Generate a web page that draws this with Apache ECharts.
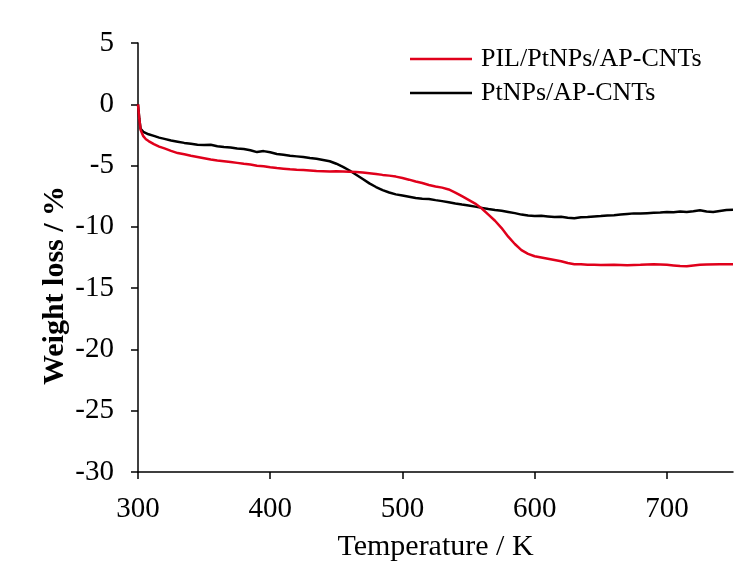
<!DOCTYPE html>
<html>
<head>
<meta charset="utf-8">
<script src="https://cdn.jsdelivr.net/npm/echarts@6/dist/echarts.min.js"></script>
<style>html,body{margin:0;padding:0;background:#fff;}#chart{width:754px;height:570px;}</style>
</head>
<body>
<div id="chart"></div>
<script>
const xTicks = [300, 400, 500, 600, 700];
const yTicks = [5, 0, -5, -10, -15, -20, -25, -30];
const seriesNames = ['PIL/PtNPs/AP-CNTs', 'PtNPs/AP-CNTs'];

const pilT = [300,301,302,304,306,308,312,316,320,325,330,335,340,345,350,355,360,365,370,375,380,385,390,395,400,405,410,415,420,425,430,435,440,445,450,455,460,465,470,475,480,485,490,495,500,505,510,515,520,525,530,535,540,545,550,555,560,565,570,575,580,585,590,595,600,605,610,615,620,625,630,635,640,645,650,660,670,680,690,700,705,710,715,720,725,730,740,750];
const pilW = [0,-1.2,-2.1,-2.6,-2.85,-3.0,-3.25,-3.45,-3.6,-3.8,-3.98,-4.08,-4.2,-4.3,-4.4,-4.5,-4.58,-4.64,-4.7,-4.78,-4.86,-4.92,-5.02,-5.06,-5.14,-5.2,-5.25,-5.3,-5.34,-5.37,-5.4,-5.44,-5.46,-5.48,-5.47,-5.48,-5.5,-5.53,-5.57,-5.62,-5.68,-5.76,-5.82,-5.9,-6.02,-6.15,-6.3,-6.42,-6.58,-6.7,-6.8,-6.95,-7.2,-7.5,-7.8,-8.1,-8.5,-9.0,-9.5,-10.1,-10.8,-11.4,-11.9,-12.2,-12.4,-12.5,-12.6,-12.7,-12.8,-12.95,-13.05,-13.05,-13.1,-13.1,-13.12,-13.1,-13.13,-13.1,-13.05,-13.1,-13.15,-13.2,-13.22,-13.15,-13.1,-13.08,-13.05,-13.05];

const ptT = [300,301,302,304,306,308,312,316,320,325,330,335,340,345,350,355,360,365,370,375,380,385,390,395,400,405,410,415,420,425,430,435,440,445,450,455,460,465,470,475,480,485,490,495,500,505,510,515,520,525,530,535,540,545,550,555,560,565,570,575,580,585,590,595,600,605,610,615,620,625,630,635,640,645,650,655,660,665,670,675,680,685,690,695,700,705,710,715,720,725,730,735,740,745,750];
const ptW = [0,-1.2,-2.0,-2.25,-2.35,-2.45,-2.58,-2.72,-2.82,-2.95,-3.05,-3.15,-3.22,-3.3,-3.32,-3.3,-3.42,-3.48,-3.52,-3.6,-3.65,-3.75,-3.9,-3.82,-3.92,-4.05,-4.12,-4.2,-4.25,-4.3,-4.38,-4.45,-4.55,-4.65,-4.85,-5.1,-5.4,-5.75,-6.1,-6.45,-6.75,-7.0,-7.2,-7.35,-7.45,-7.55,-7.65,-7.7,-7.72,-7.82,-7.9,-8.0,-8.1,-8.18,-8.25,-8.35,-8.45,-8.55,-8.62,-8.68,-8.78,-8.88,-9.0,-9.08,-9.12,-9.1,-9.15,-9.2,-9.18,-9.25,-9.3,-9.22,-9.2,-9.15,-9.12,-9.08,-9.05,-9.0,-8.95,-8.9,-8.92,-8.88,-8.85,-8.82,-8.78,-8.8,-8.75,-8.78,-8.72,-8.65,-8.75,-8.78,-8.7,-8.62,-8.6];

const pair = (xs, ys) => xs.map((x, i) => [x, ys[i]]);
const font = 'Liberation Serif';
const red = '#e0001b';

const chart = echarts.init(document.getElementById('chart'), null, {renderer: 'canvas'});
chart.setOption({
  animation: false,
  backgroundColor: '#fff',
  grid: {left: 138, right: 21, top: 43, bottom: 98, containLabel: false},
  legend: {
    left: 405, top: 41, orient: 'vertical', itemGap: 8,
    itemWidth: 62, itemHeight: 2.5, icon: 'rect',
    textStyle: {fontFamily: font, fontSize: 26, color: '#000', padding: [0,0,0,4]},
    data: seriesNames
  },
  xAxis: {
    type: 'value', min: 300, max: 750, interval: 100,
    name: 'Temperature / K', nameLocation: 'middle', nameGap: 60, nameMoveOverlap: false,
    nameTextStyle: {fontFamily: font, fontSize: 30, color: '#000'},
    axisLine: {onZero: false, lineStyle: {color: '#000', width: 1.5}},
    axisTick: {show: true, length: 7, lineStyle: {color: '#000', width: 1.5},
      customValues: xTicks},
    axisLabel: {fontFamily: font, fontSize: 29, color: '#000', margin: 23,
      customValues: xTicks, formatter: v => String(v)},
    splitLine: {show: false}
  },
  yAxis: {
    type: 'value', min: -30, max: 5, interval: 5,
    name: 'Weight loss / %', nameLocation: 'middle', nameGap: 68, nameRotate: 90, nameMoveOverlap: false,
    nameTextStyle: {fontFamily: font, fontSize: 30, fontWeight: 'bold', color: '#000', padding: [0, 56, 0, 0]},
    axisLine: {onZero: false, lineStyle: {color: '#000', width: 1.5}},
    axisTick: {show: true, length: 7, lineStyle: {color: '#000', width: 1.5}},
    axisLabel: {fontFamily: font, fontSize: 29, color: '#000', margin: 24,
      formatter: v => (yTicks.indexOf(v) >= 0 ? String(v) : '')},
    splitLine: {show: false}
  },
  series: [
    {name: seriesNames[0], type: 'line', data: pair(pilT, pilW), showSymbol: false, symbol: 'none',
     lineStyle: {color: red, width: 2.5}, itemStyle: {color: red}, z: 3},
    {name: seriesNames[1], type: 'line', data: pair(ptT, ptW), showSymbol: false, symbol: 'none',
     lineStyle: {color: '#000', width: 2.5}, itemStyle: {color: '#000'}, z: 2}
  ]
});
</script>
</body>
</html>
